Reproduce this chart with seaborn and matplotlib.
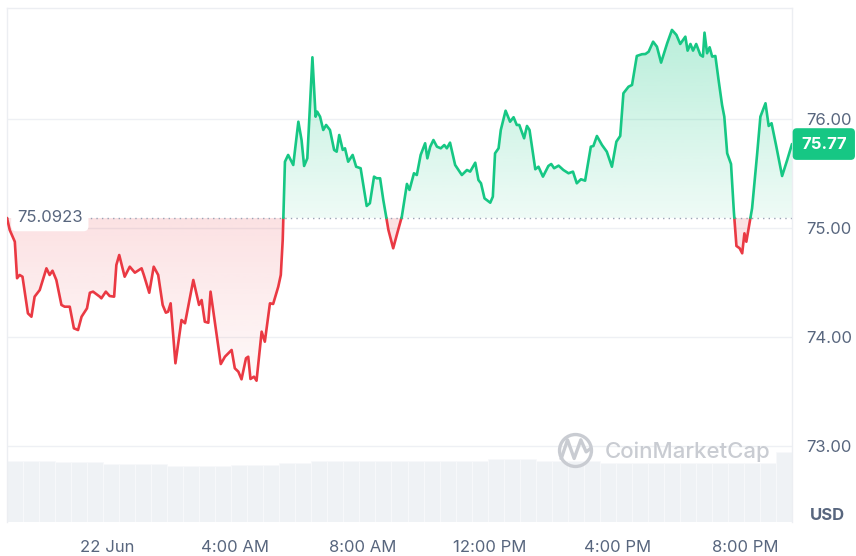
import numpy as np
import pandas as pd
import seaborn as sns
import matplotlib.pyplot as plt
from matplotlib.path import Path
from matplotlib.colors import to_rgb


# hours relative to 00:00 on 22 Jun, price in USD
hours = [-3.125, -3.04, -2.88, -2.81, -2.73, -2.64, -2.47, -2.36, -2.26, -2.10,
         -1.89, -1.79, -1.70, -1.58, -1.42, -1.32, -1.16, -1.03, -0.90, -0.79,
         -0.62, -0.53, -0.43, -0.22, -0.17, -0.03, 0.09, 0.23, 0.30, 0.39,
         0.56, 0.72, 0.88, 1.01, 1.09, 1.16, 1.33, 1.47, 1.61, 1.75,
         1.85, 1.92, 2.00, 2.15, 2.34, 2.45, 2.71, 2.89, 2.97, 3.07,
         3.18, 3.25, 3.57, 3.70, 3.91, 4.01, 4.12, 4.22, 4.36, 4.43,
         4.50, 4.61, 4.69, 4.85, 4.95, 5.11, 5.21, 5.37, 5.45, 5.51,
         5.58, 5.68, 5.84, 6.00, 6.10, 6.18, 6.28, 6.44, 6.54, 6.59,
         6.68, 6.78, 6.87, 6.99, 7.12, 7.20, 7.28, 7.39, 7.46, 7.56,
         7.70, 7.81, 7.95, 8.14, 8.24, 8.37, 8.45, 8.56, 8.66, 8.75,
         8.82, 8.97, 9.11, 9.24, 9.40, 9.48, 9.62, 9.71, 9.83, 9.97,
         10.04, 10.13, 10.23, 10.34, 10.46, 10.57, 10.65, 10.75, 10.91, 11.12,
         11.28, 11.38, 11.54, 11.64, 11.72, 11.83, 12.01, 12.09, 12.16, 12.27,
         12.34, 12.49, 12.63, 12.74, 12.84, 12.92, 13.07, 13.16, 13.24, 13.42,
         13.52, 13.66, 13.83, 13.92, 14.01, 14.15, 14.30, 14.46, 14.60, 14.72,
         14.85, 14.98, 15.16, 15.24, 15.35, 15.51, 15.66, 15.82, 15.96, 16.08,
         16.18, 16.34, 16.45, 16.60, 16.76, 16.87, 16.97, 17.11, 17.23, 17.36,
         17.55, 17.70, 17.84, 17.96, 18.12, 18.19, 18.28, 18.36, 18.46, 18.59,
         18.67, 18.72, 18.80, 18.88, 18.96, 19.06, 19.16, 19.27, 19.34, 19.43,
         19.55, 19.64, 19.72, 19.82, 19.90, 19.97, 20.03, 20.21, 20.37, 20.47,
         20.63, 20.73, 20.82, 20.97, 21.15, 21.31, 21.46]

prices = [75.0923, 74.982, 74.874, 74.539, 74.569, 74.553, 74.217, 74.186, 74.370, 74.431,
          74.630, 74.569, 74.608, 74.523, 74.294, 74.278, 74.278, 74.080, 74.064, 74.186,
          74.263, 74.406, 74.416, 74.370, 74.355, 74.416, 74.376, 74.370, 74.661, 74.752,
          74.553, 74.645, 74.590, 74.615, 74.630, 74.569, 74.406, 74.645, 74.569, 74.294,
          74.223, 74.232, 74.309, 73.759, 74.156, 74.126, 74.523, 74.294, 74.339, 74.140,
          74.131, 74.416, 73.752, 73.819, 73.881, 73.713, 73.682, 73.612, 73.805, 73.819,
          73.615, 73.636, 73.599, 74.049, 73.957, 74.309, 74.303, 74.461, 74.569, 74.890,
          75.608, 75.670, 75.578, 75.975, 75.807, 75.569, 75.639, 76.566, 76.021, 76.067,
          76.021, 75.899, 75.945, 75.899, 75.716, 75.700, 75.853, 75.716, 75.731, 75.608,
          75.670, 75.562, 75.548, 75.202, 75.227, 75.471, 75.456, 75.456, 75.257, 75.104,
          74.982, 74.814, 74.966, 75.104, 75.404, 75.349, 75.502, 75.486, 75.670, 75.777,
          75.639, 75.746, 75.807, 75.746, 75.731, 75.761, 75.731, 75.783, 75.578, 75.486,
          75.532, 75.517, 75.599, 75.440, 75.410, 75.272, 75.232, 75.287, 75.685, 75.731,
          75.899, 76.076, 75.975, 76.016, 75.945, 75.945, 75.823, 75.936, 75.899, 75.539,
          75.562, 75.471, 75.569, 75.587, 75.548, 75.572, 75.532, 75.502, 75.517, 75.410,
          75.447, 75.434, 75.746, 75.752, 75.844, 75.761, 75.700, 75.562, 75.792, 75.844,
          76.236, 76.296, 76.312, 76.578, 76.594, 76.596, 76.617, 76.709, 76.663, 76.517,
          76.694, 76.817, 76.771, 76.688, 76.755, 76.627, 76.688, 76.627, 76.688, 76.587,
          76.572, 76.792, 76.603, 76.658, 76.572, 76.578, 76.358, 76.128, 76.021, 75.685,
          75.587, 75.147, 74.835, 74.814, 74.768, 74.951, 74.874, 75.181, 75.685, 76.021,
          76.144, 75.936, 75.961, 75.746, 75.477, 75.624, 75.77]

open_price = 75.0923
last_price = 75.77

# traded volume per half hour, millions USD
volume_m = [6.10, 6.12, 6.08, 6.00, 5.98, 6.02, 5.82, 5.80, 5.78, 5.80,
            5.62, 5.58, 5.60, 5.62, 5.70, 5.68, 5.72, 5.90, 5.92, 6.10,
            6.12, 6.10, 6.08, 6.10, 6.12, 6.10, 6.10, 6.08, 6.12, 6.10,
            6.28, 6.30, 6.32, 6.10, 6.12, 6.08, 6.10, 5.92, 5.90, 5.88,
            5.90, 5.92, 5.90, 5.88, 5.90, 5.92, 5.90, 5.90, 7.00]

xtick_hours = [0, 4, 8, 12, 16, 20]
xtick_labels = ["22 Jun", "4:00 AM", "8:00 AM", "12:00 PM", "4:00 PM", "8:00 PM"]
ytick_values = [73, 74, 75, 76]

GREEN = "#16c784"
RED = "#ea3943"
TXT = "#58667e"
WM = "#c9ccd2"

sns.set_theme(style="white")
plt.rcParams["font.family"] = ["Inter", "DejaVu Sans"]

t = np.array(hours)
p = np.array(prices)
up = p > open_price

# split the line into runs above / below the opening price
rows = []
seg = 0
for i in range(len(t)):
    rows.append((t[i], p[i], seg, up[i]))
    if i + 1 < len(t) and up[i] != up[i + 1]:
        f = (open_price - p[i]) / (p[i + 1] - p[i])
        tc = t[i] + f * (t[i + 1] - t[i])
        rows.append((tc, open_price, seg, up[i]))
        seg += 1
        rows.append((tc, open_price, seg, up[i + 1]))
df = pd.DataFrame(rows, columns=["hour", "price", "seg", "up"])
df["side"] = np.where(df["up"], "up", "down")

fig = plt.figure(figsize=(8.56, 5.56), dpi=100)
ax = fig.add_axes([7 / 856, 34 / 556, 785 / 856, 514 / 556])
ax2 = ax.twinx()

# volume bars in the background
w = (t[-1] - t[0]) / len(volume_m)
ax2.bar(t[0] + w * np.arange(len(volume_m)), volume_m, width=w, align="edge",
        color="#eff2f5", edgecolor="#f8f9fb", linewidth=0.6)
ax2.set_ylim(0, 51.4)
ax2.set_yticks([])
for s in ax2.spines.values():
    s.set_visible(False)
ax.set_zorder(ax2.get_zorder() + 1)
ax.patch.set_visible(False)


def gradient_fill(color, where, lo, hi, a_lo, a_hi):
    coll = ax.fill_between(t, p, open_price, where=where, interpolate=True,
                           facecolor="none", edgecolor="none")
    clip = Path.make_compound_path(*coll.get_paths())
    grad = np.zeros((256, 1, 4))
    grad[..., :3] = to_rgb(color)
    grad[:, 0, 3] = np.linspace(a_lo, a_hi, 256)
    im = ax.imshow(grad, extent=[t[0], t[-1], lo, hi], origin="lower",
                   aspect="auto", interpolation="bilinear", zorder=1.5)
    im.set_clip_path(clip, transform=ax.transData)


gradient_fill(GREEN, p >= open_price, open_price, p.max(), 0.07, 0.30)
gradient_fill(RED, p <= open_price, p.min(), open_price, 0.03, 0.15)

sns.lineplot(data=df, x="hour", y="price", hue="side", units="seg",
             estimator=None, sort=False, palette={"up": GREEN, "down": RED},
             legend=False, lw=1.9, ax=ax, zorder=4)

ax.axhline(open_price, color="#9aa3b5", lw=1, ls=(0, (1, 3)), zorder=2)

ax.set_xlim(t[0], t[-1])
ax.set_ylim(72.303, 77.018)
ax.set_xlabel("")
ax.set_ylabel("")
ax.grid(axis="y", color="#eef0f4", lw=1)
ax.grid(axis="x", visible=False)

ax.yaxis.tick_right()
ax.set_yticks(ytick_values, labels=[f"{v:.2f}" for v in ytick_values])
ax.set_xticks(xtick_hours, labels=xtick_labels)
ax.tick_params(axis="y", length=0, pad=10, labelsize=12, colors=TXT)
ax.tick_params(axis="x", length=0, pad=13, labelsize=12, colors=TXT)

for side in ["left", "top", "right"]:
    ax.spines[side].set_color("#eceef2")
    ax.spines[side].set_linewidth(1)
ax.spines["bottom"].set_visible(False)

# opening price label
ax.annotate(f"{open_price:.4f}", xy=(t[0], open_price), xytext=(10, 0),
            textcoords="offset pixels", va="center", ha="left", fontsize=12,
            color=TXT, zorder=3,
            bbox=dict(boxstyle="round,pad=0.35,rounding_size=0.3", fc="white", ec="none"))

# last price tag
ax.annotate(f"{last_price:.2f}", xy=(1, last_price), xycoords=ax.get_yaxis_transform(),
            xytext=(9, 0), textcoords="offset pixels", va="center", ha="left",
            fontsize=12, fontweight="bold", color="white", zorder=6,
            annotation_clip=False,
            bbox=dict(boxstyle="round,pad=0.5,rounding_size=0.25", fc=GREEN, ec="none"))

ax.annotate("USD", xy=(1, 0), xycoords="axes fraction", xytext=(18, 6),
            textcoords="offset pixels", va="center", ha="left", fontsize=12,
            fontweight="bold", color=TXT, annotation_clip=False)

# watermark
wave = Path([(-0.55, -0.35), (-0.3, 0.4), (-0.05, -0.3), (0.2, 0.4), (0.4, -0.05), (0.6, 0.1)],
            [Path.MOVETO] + [Path.LINETO] * 5)
ax.plot([0.724], [0.14], marker="o", ms=23, mfc="none", mec=WM, mew=2.4,
        transform=ax.transAxes, zorder=2)
ax.plot([0.724], [0.14], marker=wave, ms=23, mfc="none", mec=WM, mew=2.4,
        transform=ax.transAxes, zorder=2)
ax.text(0.762, 0.136, "CoinMarketCap", transform=ax.transAxes, fontsize=16,
        color=WM, va="center", ha="left", fontweight="medium", zorder=2)

fig.savefig("out.png", dpi=100)
